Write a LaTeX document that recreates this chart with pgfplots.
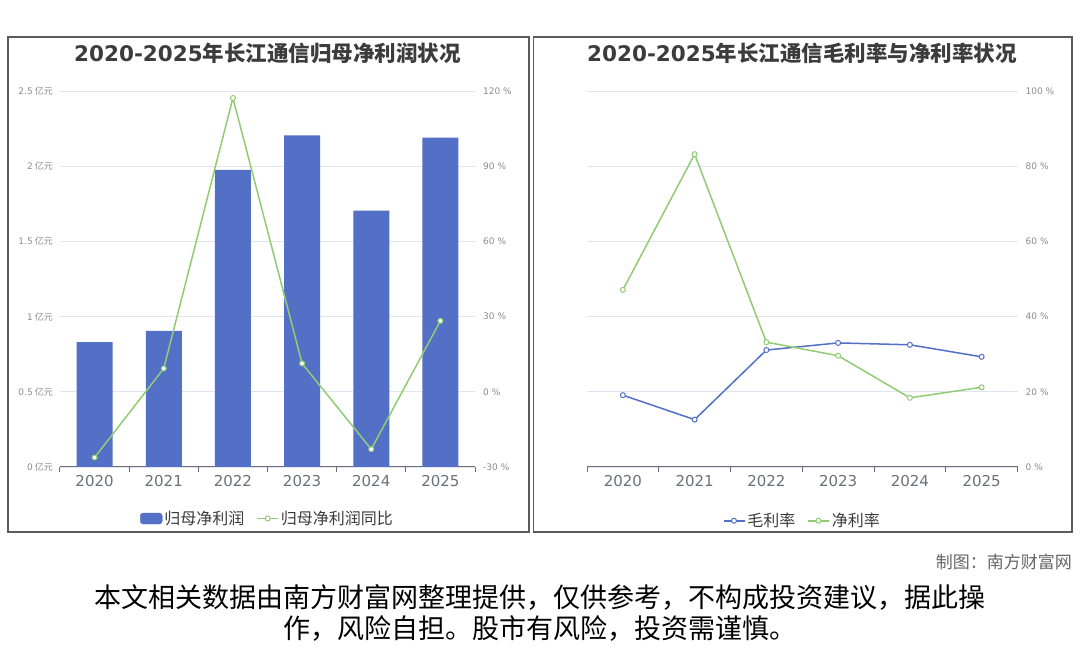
\documentclass[border=0pt]{standalone}
\usepackage{pgfplots}
\pgfplotsset{compat=1.18}
\usepackage{fontspec}
\setmainfont{Noto Sans CJK SC}
\newfontfamily\dv{DejaVu Sans}
\definecolor{barblue}{HTML}{5470C6}
\definecolor{lgreen}{HTML}{91CC75}
\definecolor{gridc}{HTML}{E0E6F1}
\definecolor{axisc}{HTML}{6E7079}
\definecolor{ylab}{HTML}{8C8C8C}
\definecolor{titlec}{HTML}{3C3C3C}
\definecolor{panelc}{HTML}{5A5A5A}
\pgfplotsset{
  common/.style={
    scale only axis, enlargelimits=false,
    xmin=-0.5, xmax=5.5,
    xtick={0,1,2,3,4,5},
    xticklabels={2020,2021,2022,2023,2024,2025},
    minor xtick={-0.5,0.5,1.5,2.5,3.5,4.5,5.5},
    major tick length=0pt, minor tick length=5pt,
    axis x line*=bottom,
    xtick align=outside,
    x axis line style={axisc, line width=1pt, -},
    xtick style={axisc, line width=1pt},
    xticklabel style={font=\dv\fontsize{15}{16}\selectfont, text=axisc, yshift=-5pt},
    y axis line style={draw=none},
    ytick style={draw=none},
    ymajorgrids, grid style={gridc, line width=0.8pt},
    legend style={draw=none, fill=none, legend columns=-1,
      font=\fontsize{16}{18}\selectfont, text=titlec,
      /tikz/every even column/.append style={column sep=10pt}},
  },
  ll/.style={yticklabel style={font=\fontsize{9}{10}\selectfont, text=ylab, anchor=east, inner sep=0pt, xshift=-7pt}},
  rl/.style={yticklabel style={font=\dv\fontsize{9}{10}\selectfont, text=ylab, anchor=west, inner sep=0pt, xshift=8pt}},
  lineleg/.style={legend image code/.code={\draw[mark repeat=2,mark phase=2,##1] plot coordinates {(0pt,0pt) (10.5pt,0pt) (21pt,0pt)};}},
}
\begin{document}
\begin{tikzpicture}
\useasboundingbox (0pt,0pt) rectangle (1080pt,646pt);
\fill[white] (0pt,0pt) rectangle (1080pt,646pt);
\draw[panelc, line width=1.2pt] (8pt,114pt) rectangle (529pt,609pt);
\draw[panelc, line width=1.2pt] (533.5pt,114pt) rectangle (1072pt,609pt);

% left chart: bars
\begin{axis}[common, ll, at={(60pt,179pt)}, anchor=south west, width=415pt, height=376pt,
  ymin=0, ymax=2.5, ytick={0,0.5,1,1.5,2,2.5},
  yticklabels={{\dv 0} 亿元,{\dv 0.5} 亿元,{\dv 1} 亿元,{\dv 1.5} 亿元,{\dv 2} 亿元,{\dv 2.5} 亿元},
  axis y line*=left]
\addplot[ybar, bar width=36pt, fill=barblue, draw=none] coordinates {
  (0,0.83) (1,0.905) (2,1.975) (3,2.205) (4,1.705) (5,2.19)};
\end{axis}
% left chart: growth line
\begin{axis}[common, rl, at={(60pt,179pt)}, anchor=south west, width=415pt, height=376pt,
  ymin=-30, ymax=120, ytick={-30,0,30,60,90,120},
  yticklabels={-30 \%,0 \%,30 \%,60 \%,90 \%,120 \%},
  axis y line*=right, hide x axis, ymajorgrids=false,
  legend style={at={(0.5,-0.137)}, anchor=center}]
\addlegendimage{legend image code/.code={\fill[barblue, rounded corners=3pt] (0pt,-5.5pt) rectangle (22pt,5.5pt);}}
\addlegendentry{归母净利润}
\addplot[lgreen, line width=1.5pt, lineleg, mark=*, mark size=2.5pt, mark options={fill=white, draw=lgreen, line width=1pt}] coordinates {
  (0,-26.2) (1,9.3) (2,117.2) (3,11.3) (4,-22.9) (5,28.3)};
\addlegendentry{归母净利润同比}
\end{axis}

% right chart
\begin{axis}[common, rl, at={(587pt,179pt)}, anchor=south west, width=430.5pt, height=376pt,
  ymin=0, ymax=100, ytick={0,20,40,60,80,100},
  yticklabels={0 \%,20 \%,40 \%,60 \%,80 \%,100 \%},
  axis y line*=right,
  legend style={at={(0.5,-0.143)}, anchor=center}]
\addplot[barblue, line width=1.5pt, lineleg, mark=*, mark size=2.5pt, mark options={fill=white, draw=barblue, line width=1pt}] coordinates {
  (0,19.1) (1,12.6) (2,31.1) (3,33.0) (4,32.5) (5,29.3)};
\addlegendentry{毛利率}
\addplot[lgreen, line width=1.5pt, lineleg, mark=*, mark size=2.5pt, mark options={fill=white, draw=lgreen, line width=1pt}] coordinates {
  (0,47.1) (1,83.2) (2,33.2) (3,29.6) (4,18.4) (5,21.2)};
\addlegendentry{净利率}
\end{axis}

% titles
\node[text=titlec, font=\fontsize{21.5}{25}\selectfont\bfseries] at (267.5pt,593pt) {{\dv\bfseries 2020-2025}年长江通信归母净利润状况};
\node[text=titlec, font=\fontsize{21.5}{25}\selectfont\bfseries] at (802pt,593pt) {{\dv\bfseries 2020-2025}年长江通信毛利率与净利率状况};

% footer
\node[anchor=east, text=black!60, font=\fontsize{17}{19}\selectfont, inner sep=0pt] at (1072pt,84pt) {制图：南方财富网};
\node[align=center, text=black, font=\fontsize{27}{31}\selectfont, inner sep=0pt] at (540pt,33pt)
  {本文相关数据由南方财富网整理提供，仅供参考，不构成投资建议，据此操\\作，风险自担。股市有风险，投资需谨慎。};
\end{tikzpicture}
\end{document}
